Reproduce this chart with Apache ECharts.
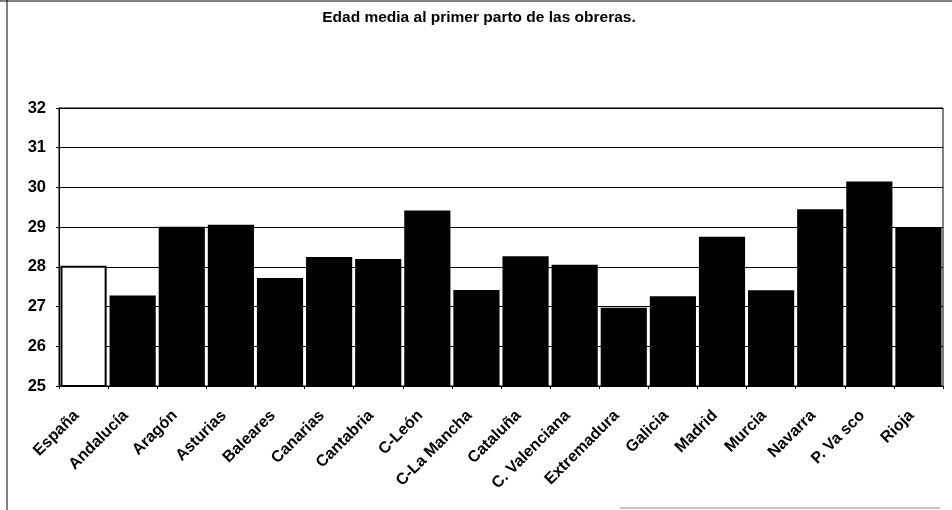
<!DOCTYPE html>
<html><head><meta charset="utf-8">
<script src="https://cdn.jsdelivr.net/npm/echarts@6/dist/echarts.min.js"></script>
<style>html,body{margin:0;padding:0;background:#fff}#c{width:952px;height:510px}</style>
</head><body><div id="c"></div>
<script>
const titleText = 'Edad media al primer parto de las obreras.';
const categories = ['España','Andalucía','Aragón','Asturias','Baleares','Canarias','Cantabria','C-León','C-La Mancha','Cataluña','C. Valenciana','Extremadura','Galicia','Madrid','Murcia','Navarra','P. Va sco','Rioja'];
const values = [28.03,27.28,29.01,29.06,27.72,28.25,28.2,29.42,27.42,28.27,28.05,26.97,27.26,28.76,27.41,29.45,30.15,29.0];
const yMin = 25, yMax = 32, yInterval = 1;

const chart = echarts.init(document.getElementById('c'), null, {renderer:'canvas'});
chart.setOption({
  animation:false,
  backgroundColor:'#fff',
  title:{text:titleText,left:474,textAlign:'center',top:5,
    textStyle:{fontFamily:'Liberation Sans, Arial',fontWeight:'bold',fontSize:15.5,color:'#000'}},
  grid:{left:59,right:9,top:108,bottom:124,show:true,borderColor:'#000',borderWidth:1,backgroundColor:'transparent'},
  xAxis:{type:'category',data:categories,boundaryGap:true,
    axisLine:{lineStyle:{color:'#000',width:1}},
    axisTick:{show:true,length:3,lineStyle:{color:'#000'}},
    axisLabel:{rotate:45,interval:0,color:'#000',fontFamily:'Liberation Sans, Arial',fontWeight:'bold',fontSize:16,margin:20,padding:[0,10,0,0]}},
  yAxis:{type:'value',min:yMin,max:yMax,interval:yInterval,
    axisLine:{show:true,lineStyle:{color:'#000',width:1}},
    axisTick:{show:true,length:3,lineStyle:{color:'#000'}},
    splitLine:{show:true,lineStyle:{color:'#000',width:1}},
    axisLabel:{color:'#000',fontFamily:'Liberation Sans, Arial',fontWeight:'bold',fontSize:16.5,margin:13}},
  series:[{type:'bar',barCategoryGap:'6%',
    data:values.map((v,i)=>({value:v,itemStyle:{color:i===0?'#fff':'#000',borderColor:'#000',borderWidth:i===0?2:0}}))}],
  graphic:[
    {type:'line',shape:{x1:7,y1:0,x2:7,y2:510},style:{stroke:'#000',lineWidth:1}},
    {type:'line',shape:{x1:0,y1:1,x2:952,y2:1},style:{stroke:'#000',lineWidth:1}},
    {type:'line',shape:{x1:620,y1:508,x2:940,y2:508},style:{stroke:'#888',lineWidth:1}}
  ]
});
</script></body></html>
